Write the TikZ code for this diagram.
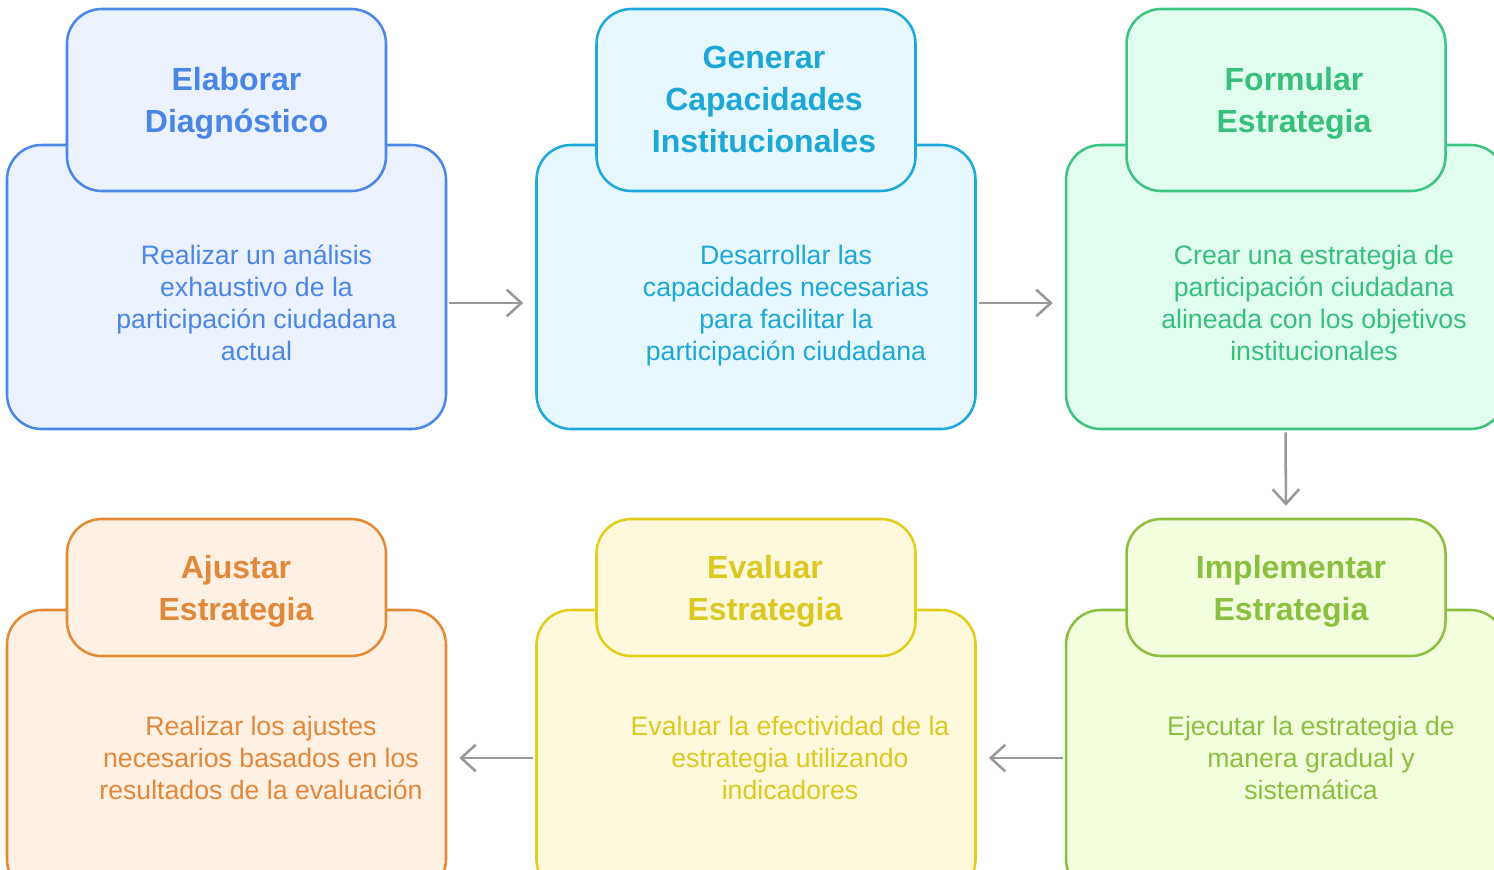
\documentclass[tikz,border=0pt]{standalone}
\usepackage{fontspec}
\setmainfont{Liberation Sans}
\usetikzlibrary{arrows.meta}
\definecolor{blueline}{HTML}{4B87E5}
\definecolor{bluefill}{HTML}{EBF2FE}
\definecolor{bluetext}{HTML}{4A86E4}
\definecolor{cyanline}{HTML}{1DA9D9}
\definecolor{cyanfill}{HTML}{E6F8FE}
\definecolor{cyantext}{HTML}{1CA7D6}
\definecolor{greenline}{HTML}{3DC480}
\definecolor{greenfill}{HTML}{E0FDF0}
\definecolor{greentext}{HTML}{37C07A}
\definecolor{limeline}{HTML}{8CBF3F}
\definecolor{limefill}{HTML}{F2FEDD}
\definecolor{limetext}{HTML}{8AC040}
\definecolor{yellowline}{HTML}{E2CE1A}
\definecolor{yellowfill}{HTML}{FEF9DC}
\definecolor{yellowtext}{HTML}{DCC820}
\definecolor{orangeline}{HTML}{E38A36}
\definecolor{orangefill}{HTML}{FEF0E3}
\definecolor{orangetext}{HTML}{E2883A}
\definecolor{conngray}{HTML}{999999}
\tikzset{
  bigbox/.style={rectangle, rounded corners=26pt, line width=1.9pt, inner sep=0pt,
    minimum width=329.25pt, minimum height=213pt, draw=#1line, fill=#1fill},
  headbox/.style={rectangle, rounded corners=26pt, line width=1.9pt, inner sep=0pt,
    minimum width=239.25pt, draw=#1line, fill=#1fill},
  tallhead/.style={headbox=#1, minimum height=136.5pt},
  shorthead/.style={headbox=#1, minimum height=102.75pt},
  headtext/.style={align=center, inner sep=0pt, text=#1text,
    font=\bfseries\fontsize{24}{31.5}\selectfont},
  bodytext/.style={align=center, inner sep=0pt, text=#1text,
    font=\fontsize{20}{24}\selectfont},
  conn/.style={draw=conngray, line width=1.9pt,
    -{Straight Barb[length=11pt,width=20pt,line width=1.9pt]},
    shorten <=1.5pt, shorten >=9pt}
}
\begin{document}
\begin{tikzpicture}[x=0.75pt,y=-0.75pt]
\useasboundingbox (0,0) rectangle (1494,870);
\fill[white] (0,0) rectangle (1494,870);
\clip (0,0) rectangle (1494,870);

% top row
\node[bigbox=blue] (b1) at (226.5,287) {};
\node[tallhead=blue] (h1) at (226.5,100) {};
\node[headtext=blue] (ht1) at (236.5,103) {Elaborar\\Diagnóstico};
\node[bodytext=blue] (t1) at (256.5,303) {Realizar un análisis\\exhaustivo de la\\participación ciudadana\\actual};

\node[bigbox=cyan] (b2) at (756,287) {};
\node[tallhead=cyan] (h2) at (756,100) {};
\node[headtext=cyan] (ht2) at (764,99) {Generar\\Capacidades\\Institucionales};
\node[bodytext=cyan] (t2) at (786,306) {Desarrollar las\\capacidades necesarias\\para facilitar la\\participación ciudadana};

\node[bigbox=green] (b3) at (1285.5,287) {};
\node[tallhead=green] (h3) at (1286,100) {};
\node[headtext=green] (ht3) at (1294,103) {Formular\\Estrategia};
\node[bodytext=green] (t3) at (1314,303) {Crear una estrategia de\\participación ciudadana\\alineada con los objetivos\\institucionales};

% bottom row
\node[bigbox=orange] (b4) at (226.5,752) {};
\node[shorthead=orange] (h4) at (226.5,587.5) {};
\node[headtext=orange] (ht4) at (236,591) {Ajustar\\Estrategia};
\node[bodytext=orange] (t4) at (261,758) {Realizar los ajustes\\necesarios basados en los\\resultados de la evaluación};

\node[bigbox=yellow] (b5) at (756,752) {};
\node[shorthead=yellow] (h5) at (756,587.5) {};
\node[headtext=yellow] (ht5) at (765,591) {Evaluar\\Estrategia};
\node[bodytext=yellow] (t5) at (790,758) {Evaluar la efectividad de la\\estrategia utilizando\\indicadores};

\node[bigbox=lime] (b6) at (1285.5,752) {};
\node[shorthead=lime] (h6) at (1286,587.5) {};
\node[headtext=lime] (ht6) at (1291,591) {Implementar\\Estrategia};
\node[bodytext=lime] (t6) at (1311,758) {Ejecutar la estrategia de\\manera gradual y\\sistemática};

% connectors
\draw[conn] (t1 -| b1.east) -- (t1 -| b2.west);
\draw[conn] (t3 -| b2.east) -- (t3 -| b3.west);
\draw[conn] (b3.south) -- (h6.north);
\draw[conn] (t6 -| b6.west) -- (t6 -| b5.east);
\draw[conn] (t5 -| b5.west) -- (t5 -| b4.east);
\end{tikzpicture}
\end{document}
